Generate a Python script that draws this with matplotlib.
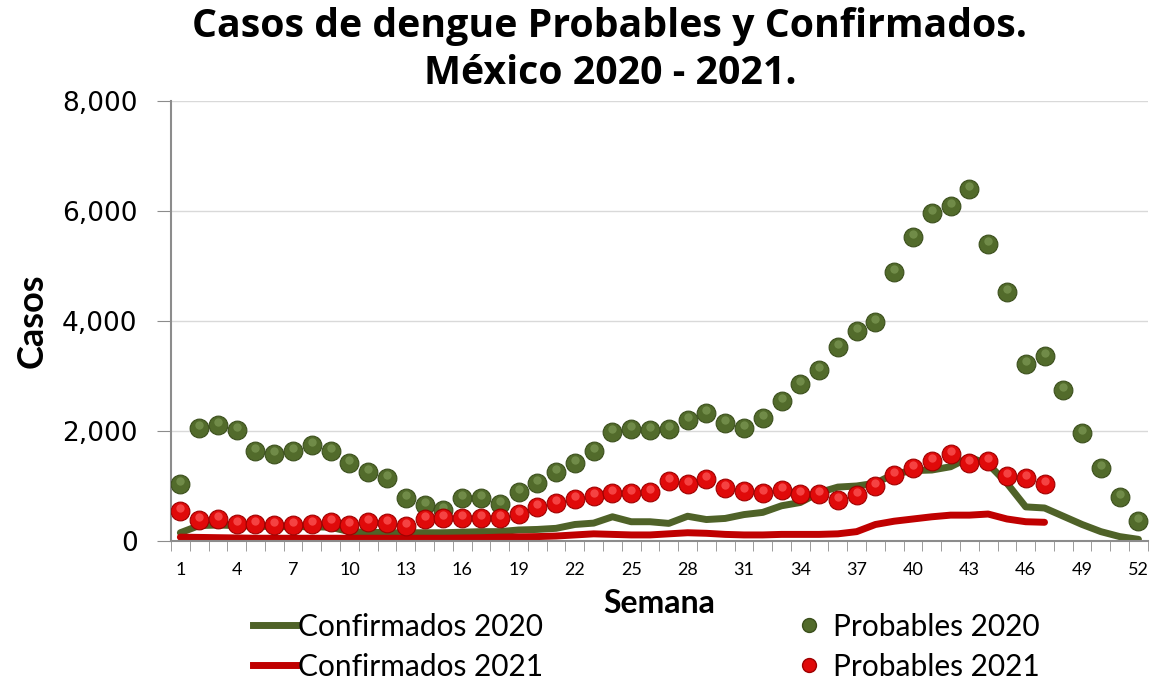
import matplotlib
matplotlib.use("Agg")
import matplotlib.pyplot as plt
from matplotlib.ticker import FuncFormatter, MultipleLocator
from matplotlib.lines import Line2D
from matplotlib.transforms import offset_copy

weeks = list(range(1, 53))

probables_2020 = [1030, 2055, 2110, 2020, 1640, 1580, 1640, 1745, 1640, 1420,
                  1255, 1145, 780, 655, 565, 780, 780, 670, 890, 1055,
                  1255, 1420, 1640, 1980, 2035, 2020, 2035, 2200, 2330, 2145,
                  2055, 2235, 2545, 2855, 3110, 3530, 3820, 3980, 4890, 5530,
                  5965, 6090, 6400, 5400, 4530, 3220, 3365, 2745, 1965, 1330,
                  800, 365]

probables_2021 = [545, 380, 400, 310, 310, 290, 290, 310, 345, 290,
                  345, 330, 270, 400, 420, 420, 420, 410, 490, 620,
                  690, 765, 820, 870, 870, 890, 1090, 1036, 1130, 965,
                  910, 870, 930, 855, 855, 745, 835, 1000, 1200, 1330,
                  1455, 1580, 1420, 1455, 1180, 1145, 1036]

confirmados_2020 = [150, 280, 290, 280, 270, 260, 260, 260, 250, 170,
                    160, 150, 150, 150, 150, 160, 170, 170, 200, 210,
                    230, 300, 325, 440, 350, 350, 320, 450, 390, 410,
                    480, 520, 640, 700, 880, 980, 1000, 1050, 1220, 1280,
                    1290, 1350, 1520, 1400, 1050, 620, 600, 450, 300, 170,
                    80, 30]

confirmados_2021 = [70, 65, 60, 55, 50, 50, 50, 50, 50, 50,
                    50, 50, 50, 50, 50, 55, 60, 70, 75, 80,
                    90, 110, 130, 120, 110, 110, 130, 150, 140, 120,
                    110, 110, 120, 120, 120, 130, 170, 300, 360, 400,
                    440, 470, 470, 490, 400, 350, 340]

y_ticks = [0, 2000, 4000, 6000, 8000]
x_tick_labels = list(range(1, 53, 3))

GREEN_LINE = "#4F6228"
RED_LINE = "#C00000"
GREEN_DOT = "#526B2B"
RED_DOT = "#E00A0A"

plt.rcParams["font.family"] = ["Lato", "DejaVu Sans"]

fig = plt.figure(figsize=(11.52, 6.81), dpi=100)
ax = fig.add_axes([0.1484, 0.2056, 0.848, 0.6461])

ax.plot(weeks, confirmados_2020, color=GREEN_LINE, lw=5, solid_capstyle="round", zorder=2)
ax.plot(weeks[:len(confirmados_2021)], confirmados_2021, color=RED_LINE, lw=5,
        solid_capstyle="round", zorder=2)

# glossy dots: base marker plus a small highlight shifted upward
shine = offset_copy(ax.transData, fig=fig, x=0, y=3, units="dots")
ax.plot(weeks, probables_2020, ls="none", marker="o", ms=13.5, color=GREEN_DOT,
        mec="#3B4F1C", mew=0.8, zorder=3)
ax.plot(weeks, probables_2020, ls="none", marker="o", ms=6, color="#7E9A55",
        mew=0, alpha=0.7, transform=shine, zorder=3)
ax.plot(weeks[:len(probables_2021)], probables_2021, ls="none", marker="o", ms=13.5,
        color=RED_DOT, mec="#9E0000", mew=0.8, zorder=4)
ax.plot(weeks[:len(probables_2021)], probables_2021, ls="none", marker="o", ms=6,
        color="#FF5A5A", mew=0, alpha=0.7, transform=shine, zorder=4)

ax.set_xlim(0.5, 52.5)
ax.set_ylim(0, 8000)
ax.set_yticks(y_ticks)
ax.yaxis.set_major_formatter(FuncFormatter(lambda v, p: f"{int(v):,}"))
ax.set_xticks(x_tick_labels)
ax.xaxis.set_minor_locator(MultipleLocator(1, offset=0.5))
ax.tick_params(axis="x", which="major", length=0, labelsize=13, pad=15)
ax.tick_params(axis="x", which="minor", length=7, color="#8c8c8c", direction="out")
ax.tick_params(axis="y", which="major", length=10, color="#8c8c8c", pad=14)
for lab in ax.get_yticklabels():
    lab.set_family("DejaVu Sans")
    lab.set_fontsize(19)

ax.grid(axis="y", color="#d9d9d9", lw=1)
ax.set_axisbelow(True)
for side in ["top", "right"]:
    ax.spines[side].set_visible(False)
for side in ["left", "bottom"]:
    ax.spines[side].set_color("#8c8c8c")
    ax.spines[side].set_linewidth(1.5)

fig.text(0.5295, 0.99, "Casos de dengue Probables y Confirmados.\nMéxico 2020 - 2021.",
         ha="center", va="top", fontsize=28.3, fontweight="bold", family="Open Sans",
         linespacing=1.27)
ax.set_ylabel("Casos", fontsize=26, fontweight="bold")
ax.yaxis.set_label_coords(-0.125, 0.5)
ax.set_xlabel("Semana", fontsize=23, fontweight="bold")
ax.xaxis.set_label_coords(0.5, -0.108)

handles = [
    Line2D([], [], color=GREEN_LINE, lw=5, label="Confirmados 2020"),
    Line2D([], [], color=RED_LINE, lw=5, label="Confirmados 2021"),
    Line2D([], [], ls="none", marker="o", ms=10, color=GREEN_DOT, mec="#3B4F1C",
           label="Probables 2020"),
    Line2D([], [], ls="none", marker="o", ms=10, color=RED_DOT, mec="#9E0000",
           label="Probables 2021"),
]
fig.legend(handles=handles, loc="lower left", bbox_to_anchor=(0.217, -0.004), ncol=2,
           frameon=False, fontsize=21.5, handlelength=1.45, handletextpad=0.05,
           columnspacing=8.2, labelspacing=0.4, borderpad=0.1, borderaxespad=0)

fig.savefig("out.png", dpi=100)
